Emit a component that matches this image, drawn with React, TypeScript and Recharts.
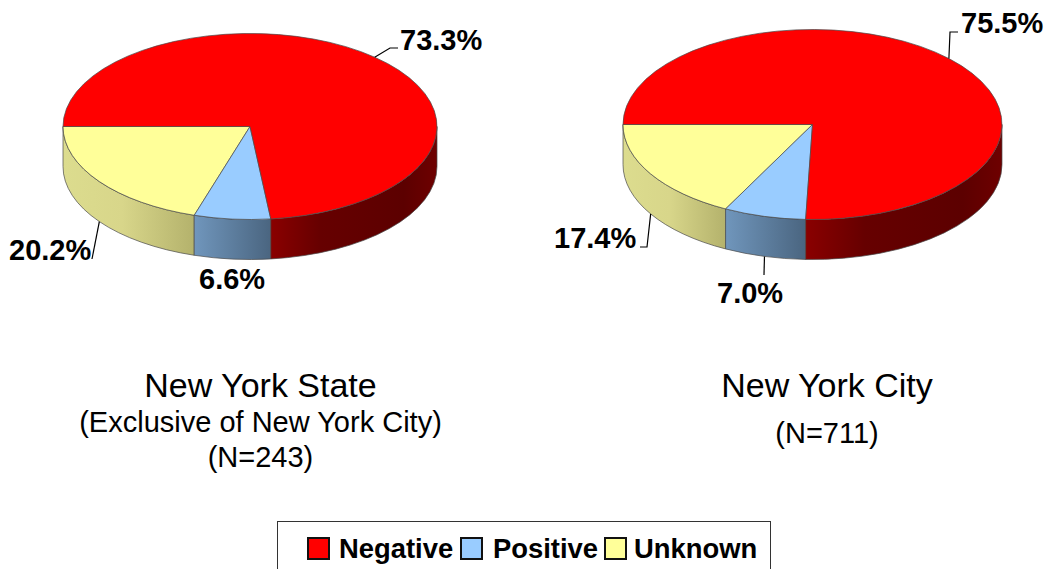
import React from 'react';
import { PieChart, Pie, Legend } from 'recharts';

// drawn counter-clockwise starting at 9 o'clock
const categories = ['Unknown', 'Positive', 'Negative'];
const stateValues = [20.2, 6.6, 73.3];
const cityValues = [17.4, 7.0, 75.5];
const legendOrder = ['Negative', 'Positive', 'Unknown'];

const topColors: Record<string, string> = {
  Negative: '#ff0000',
  Positive: '#99ccff',
  Unknown: '#ffff99',
};

const wallStops: Record<string, [number, string][]> = {
  Negative: [[0, '#8a0000'], [0.3, '#660000'], [0.8, '#5c0000'], [1, '#6e0000']],
  Positive: [[0, '#7096bc'], [1, '#4a6580']],
  Unknown: [[0, '#dcdc8e'], [0.45, '#d8d68a'], [1, '#b4b26c']],
};

const FONT = '"Liberation Sans", Arial, sans-serif';
const DEPTH = 40;

const toTable = (values: number[]) =>
  categories.map((name, i) => ({ name, value: values[i], fill: topColors[name] }));

const point = (cx: number, cy: number, rx: number, ry: number, deg: number) => {
  const rad = (deg * Math.PI) / 180;
  return { x: cx + rx * Math.cos(rad), y: cy - ry * Math.sin(rad) };
};

// Recharts only gives circular sectors, so squash them and add the side wall here
const makeSlice = (id: string, ry: number) => (props: any) => {
  const { cx, cy, outerRadius: rx, startAngle, endAngle, name, fill } = props;
  const a = point(cx, cy, rx, ry, startAngle);
  const b = point(cx, cy, rx, ry, endAngle);
  const large = endAngle - startAngle > 180 ? 1 : 0;
  const top = `M${cx},${cy} L${a.x},${a.y} A${rx},${ry} 0 ${large} 0 ${b.x},${b.y} Z`;

  const from = Math.max(startAngle, 180);
  const to = Math.min(endAngle, 360);
  const p = point(cx, cy, rx, ry, from);
  const q = point(cx, cy, rx, ry, to);
  const wall = `M${p.x},${p.y} A${rx},${ry} 0 0 0 ${q.x},${q.y} L${q.x},${q.y + DEPTH} A${rx},${ry} 0 0 1 ${p.x},${p.y + DEPTH} Z`;
  const gradId = `wall-${id}-${name}`;

  return (
    <g>
      <defs>
        <linearGradient id={gradId} x1={p.x} x2={q.x} y1={0} y2={0} gradientUnits="userSpaceOnUse">
          {wallStops[name].map(([offset, color]) => (
            <stop key={offset} offset={offset} stopColor={color} />
          ))}
        </linearGradient>
      </defs>
      <path d={wall} fill={`url(#${gradId})`} stroke="#4a4a4a" strokeOpacity={0.7} strokeWidth={1} />
      <path d={top} fill={fill} stroke="#4a4a4a" strokeOpacity={0.7} strokeWidth={1} />
    </g>
  );
};

type LabelSpot = { x: number; y: number; leader: [number, number][] };

const stateLabels: Record<string, LabelSpot> = {
  Negative: { x: 400, y: 50, leader: [[390, 48], [398, 48]] },
  Unknown: { x: 9, y: 260, leader: [[92, 259]] },
  Positive: { x: 199, y: 289, leader: [] },
};

const cityLabels: Record<string, LabelSpot> = {
  Negative: { x: 961, y: 33, leader: [[950, 32], [958, 32]] },
  Unknown: { x: 554, y: 248, leader: [[647, 247], [640, 247]] },
  Positive: { x: 717, y: 303, leader: [[764, 275]] },
};

const makeLabel = (spots: Record<string, LabelSpot>, ry: number) => (props: any) => {
  const { cx, cy, outerRadius: rx, midAngle, name, value } = props;
  const spot = spots[name];
  const start = point(cx, cy, rx, ry, midAngle);
  const onWall = Math.sin((midAngle * Math.PI) / 180) < 0;
  const pts = [[start.x, start.y + (onWall ? DEPTH : 0)], ...spot.leader];
  return (
    <g>
      {spot.leader.length > 0 && (
        <polyline points={pts.map((c) => c.join(',')).join(' ')} fill="none" stroke="#000" strokeWidth={1.2} />
      )}
      <text x={spot.x} y={spot.y} fontFamily={FONT} fontSize={29} fontWeight="bold" fill="#000">
        {value.toFixed(1)}%
      </text>
    </g>
  );
};

const Caption = ({ x, y, size, children }: any) => (
  <text x={x} y={y} textAnchor="middle" fontFamily={FONT} fontSize={size} fill="#000">
    {children}
  </text>
);

const legendSpots: Record<string, { swatch: number; text: number }> = {
  Negative: { swatch: 29, text: 61 },
  Positive: { swatch: 182, text: 215 },
  Unknown: { swatch: 326, text: 356 },
};

const BoxLegend = () => (
  <div style={{ position: 'relative', width: 492, height: 60, border: '1.5px solid #333', fontFamily: FONT }}>
    {legendOrder.map((name) => (
      <React.Fragment key={name}>
        <div
          style={{
            position: 'absolute',
            left: legendSpots[name].swatch,
            top: 15,
            width: 19,
            height: 19,
            background: topColors[name],
            border: '2px solid #111',
          }}
        />
        <div
          style={{
            position: 'absolute',
            left: legendSpots[name].text,
            top: 11,
            fontSize: 27.4,
            fontWeight: 'bold',
            lineHeight: '31px',
            color: '#000',
          }}
        >
          {name}
        </div>
      </React.Fragment>
    ))}
  </div>
);

const STATE_RY = 93;
const CITY_RY = 95;

export default function App() {
  return (
    <div style={{ position: 'absolute', left: 0, top: 0, width: 1045, height: 569, overflow: 'hidden' }}>
      <PieChart width={1045} height={569} margin={{ top: 0, right: 0, bottom: 0, left: 0 }}>
        <Pie
          data={toTable(stateValues)}
          dataKey="value"
          nameKey="name"
          cx={250}
          cy={126.5}
          outerRadius={187}
          startAngle={180}
          endAngle={540}
          shape={makeSlice('state', STATE_RY)}
          label={makeLabel(stateLabels, STATE_RY)}
          labelLine={false}
          isAnimationActive={false}
        />
        <Pie
          data={toTable(cityValues)}
          dataKey="value"
          nameKey="name"
          cx={812.5}
          cy={124.5}
          outerRadius={189.5}
          startAngle={180}
          endAngle={540}
          shape={makeSlice('city', CITY_RY)}
          label={makeLabel(cityLabels, CITY_RY)}
          labelLine={false}
          isAnimationActive={false}
        />
        <Caption x={260.5} y={397} size={34}>New York State</Caption>
        <Caption x={260.5} y={432} size={29}>(Exclusive of New York City)</Caption>
        <Caption x={260.5} y={467} size={29}>(N=243)</Caption>
        <Caption x={827} y={397} size={34}>New York City</Caption>
        <Caption x={827} y={443} size={29}>(N=711)</Caption>
        <Legend
          content={<BoxLegend />}
          wrapperStyle={{ position: 'absolute', left: 277, top: 521, width: 494, height: 60, bottom: 'auto' }}
        />
      </PieChart>
    </div>
  );
}
